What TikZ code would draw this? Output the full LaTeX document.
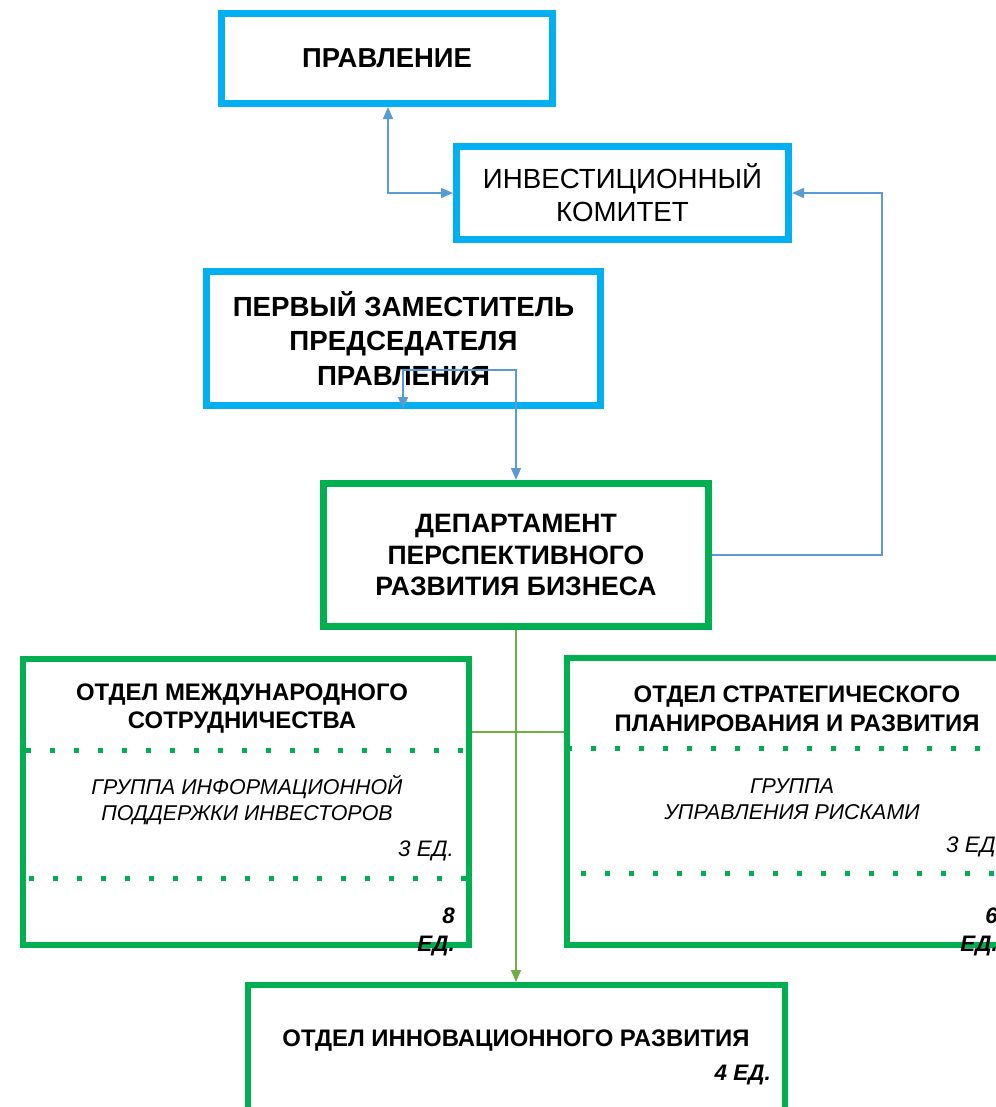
\documentclass[tikz,border=0pt]{standalone}
\usepackage{fontspec}
\setmainfont{Liberation Sans}
\usetikzlibrary{arrows.meta,calc}
\definecolor{boxblue}{HTML}{00B0F0}
\definecolor{boxgreen}{HTML}{00B050}
\definecolor{linkblue}{HTML}{5B9BD5}
\definecolor{linkgreen}{HTML}{70AD47}
\begin{document}
\begin{tikzpicture}[x=1bp,y=-1bp,
  bluebox/.style={draw=boxblue,line width=7bp,rectangle,inner sep=0pt,align=center},
  greenbox/.style={draw=boxgreen,line width=7bp,rectangle,inner sep=0pt,align=center},
  unitbox/.style={draw=boxgreen,line width=6bp,rectangle,inner sep=0pt},
  title/.style={font=\fontsize{24}{29}\selectfont\bfseries,align=center,inner sep=0pt},
  group/.style={font=\fontsize{21.5}{26}\selectfont\itshape,align=center,inner sep=0pt},
  count/.style={font=\fontsize{22.5}{28}\selectfont\itshape,align=right,inner sep=0pt,anchor=base east},
  bcount/.style={font=\fontsize{22.5}{28}\selectfont\bfseries\itshape,align=right,inner sep=0pt,anchor=base east},
  dotline/.style={draw=boxgreen,line width=5bp,dash pattern=on 5bp off 19bp},
  bluelink/.style={draw=linkblue,line width=1.6bp,{Triangle[length=12bp,width=10bp]}-{Triangle[length=12bp,width=10bp]}},
  bluelinkone/.style={draw=linkblue,line width=1.6bp,-{Triangle[length=12bp,width=10bp]}},
  greenlink/.style={draw=linkgreen,line width=1.8bp},
]
\useasboundingbox (0,0) rectangle (996,1107);
\clip (0,0) rectangle (996,1107);

% upper boxes
\node[bluebox,font=\fontsize{27.5}{33}\selectfont\bfseries,minimum width=331bp,minimum height=90bp] (board) at (387,58.5) {\raisebox{-3bp}{ПРАВЛЕНИЕ}};
\node[bluebox,font=\fontsize{27.8}{33}\selectfont,minimum width=332bp,minimum height=92.5bp] (inv) at (622.5,193) {ИНВЕСТИЦИОННЫЙ\\КОМИТЕТ};
\node[bluebox,font=\fontsize{27.8}{34.5}\selectfont\bfseries,minimum width=394bp,minimum height=134bp] (fd) at (403.5,338.5) {ПЕРВЫЙ ЗАМЕСТИТЕЛЬ\\ПРЕДСЕДАТЕЛЯ\\ПРАВЛЕНИЯ};
\node[greenbox,font=\fontsize{26.7}{32}\selectfont\bfseries,minimum width=385bp,minimum height=143bp] (dept) at (516,555) {ДЕПАРТАМЕНТ\\ПЕРСПЕКТИВНОГО\\РАЗВИТИЯ БИЗНЕСА};

% unit boxes
\node[unitbox,minimum width=445bp,minimum height=286.5bp] (lm) at (246,801.75) {};
\node[unitbox,minimum width=463.5bp,minimum height=287.5bp] (rs) at (798.25,801.25) {};
\node[unitbox,minimum width=537bp,minimum height=155bp] (inn) at (516.5,1062.5) {};

% left unit contents
\node[title] (lmt) at (242,708.5) {ОТДЕЛ МЕЖДУНАРОДНОГО\\СОТРУДНИЧЕСТВА};
\draw[dotline] (26,750) -- (466,750);
\node[group] (lmg) at (247,800) {ГРУППА ИНФОРМАЦИОННОЙ\\ПОДДЕРЖКИ ИНВЕСТОРОВ};
\node[count] (lmc) at (454,856) {3 ЕД.};
\draw[dotline] (29,878) -- (466,878);
\node[bcount] (lmn) at (455,951) {8\\ЕД.};

% right unit contents
\node[title] (rst) at (797,708.5) {ОТДЕЛ СТРАТЕГИЧЕСКОГО\\ПЛАНИРОВАНИЯ И РАЗВИТИЯ};
\draw[dotline] (567,748) -- (1000,748);
\node[group] (rsg) at (792,799) {ГРУППА\\УПРАВЛЕНИЯ РИСКАМИ};
\node[count] (rsc) at (1002,852) {3 ЕД.};
\draw[dotline] (581,873) -- (1000,873);
\node[bcount] (rsn) at (998,951) {6\\ЕД.};

% bottom unit contents
\node[title] (innt) at (516,1041) {ОТДЕЛ ИННОВАЦИОННОГО РАЗВИТИЯ};
\node[bcount] (innc) at (771,1080) {4 ЕД.};

% connectors
\coordinate (xa) at (388,0);
\coordinate (xl) at (403,0);
\coordinate (xr) at (516,0);
\coordinate (yt) at (0,370);
\coordinate (hy) at (0,732);
\coordinate (rc) at (882,555);

\draw[bluelink] (board.south -| xa) |- (inv.west);
\draw[bluelinkone] (dept.east) -- (rc) |- (inv.east);
\draw[bluelink] (fd.south -| xl) -- (xl |- yt) -| (dept.north -| xr);
\draw[greenlink] (lm.east |- hy) -- (rs.west |- hy);
\draw[greenlink,-{Triangle[length=12bp,width=10bp]}] (dept.south -| xr) -- (inn.north -| xr);
\end{tikzpicture}
\end{document}
